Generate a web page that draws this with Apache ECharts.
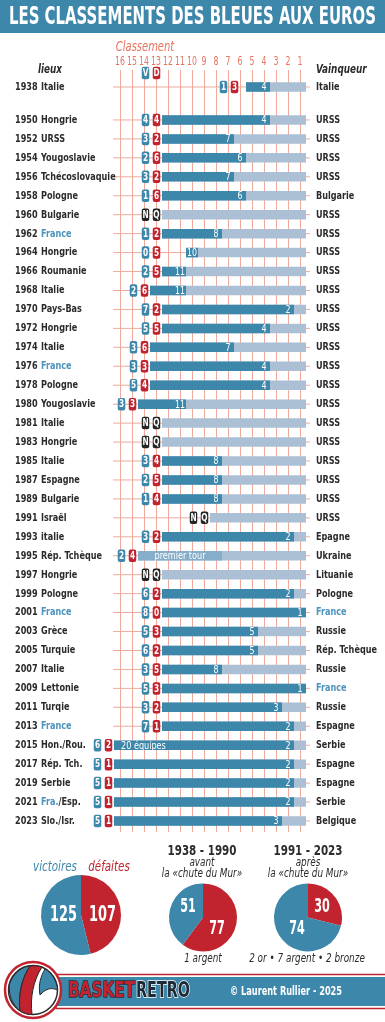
<!DOCTYPE html>
<html><head><meta charset="utf-8">
<script src="https://cdn.jsdelivr.net/npm/echarts@6/dist/echarts.min.js"></script>
<style>html,body{margin:0;padding:0;background:#fff}#c{width:385px;height:1022px}</style>
</head><body><div id="c"></div>
<script>
// ---------- DATA ----------
const years = ['1938','1950','1952','1954','1956','1958','1960','1962','1964','1966','1968','1970','1972','1974','1976','1978','1980','1981','1983','1985','1987','1989','1991','1993','1995','1997','1999','2001','2003','2005','2007','2009','2011','2013','2015','2017','2019','2021','2023'];
const hosts = ['Italie','Hongrie','URSS','Yougoslavie','Tchécoslovaquie','Pologne','Bulgarie','France','Hongrie','Roumanie','Italie','Pays-Bas','Hongrie','Italie','France','Pologne','Yougoslavie','Italie','Hongrie','Italie','Espagne','Bulgarie','Israël','italie','Rép. Tchèque','Hongrie','Pologne','France','Grèce','Turquie','Italie','Lettonie','Turqie','France','Hon./Rou.','Rép. Tch.','Serbie','Fra./Esp.','Slo./Isr.'];
const winners = ['Italie','URSS','URSS','URSS','URSS','Bulgarie','URSS','URSS','URSS','URSS','URSS','URSS','URSS','URSS','URSS','URSS','URSS','URSS','URSS','URSS','URSS','URSS','URSS','Epagne','Ukraine','Lituanie','Pologne','France','Russie','Rép. Tchèque','Russie','France','Russie','Espagne','Serbie','Espagne','Espagne','Serbie','Belgique'];
const wins   = [1,4,3,2,3,1,null,1,0,2,2,7,5,3,3,5,3,null,null,3,2,1,null,3,2,null,6,8,5,6,3,5,3,7,6,5,5,5,5];
const losses = [3,4,2,6,2,6,null,2,5,5,6,2,5,6,3,4,3,null,null,4,5,4,null,2,4,null,2,0,3,2,5,3,2,1,2,1,1,1,1];
const ranks  = [4,4,7,6,7,6,null,8,10,11,11,2,4,7,4,4,11,null,null,8,8,8,null,2,null,null,2,1,5,5,8,1,3,2,2,2,2,2,3];
const teams  = [5,12,12,12,12,12,12,12,10,12,13,12,12,13,13,13,14,12,12,12,12,12,8,12,14,12,12,12,12,12,12,12,12,12,20,20,20,20,20];
const barNotes = {'1995': {text:'premier tour', reach:8}, '2015': {text:'20 équipes'}};
const rankTicks = [16,15,14,13,12,11,10,9,8,7,6,5,4,3,2,1];
const pieAll    = {victoires:125, defaites:107};
const pieBefore = {victoires:51, defaites:77};
const pieAfter  = {victoires:74, defaites:30};

// ---------- STYLE ----------
const FONT = "'Liberation Sans Narrow','DejaVu Sans Condensed',sans-serif";
const BLUE='#3d87ab', RED='#c1232f', LIGHT='#abc0d4', MID='#86adc9', DARK='#2b2b2b', SALMON='#e5735f', GRID='#eeaa9c', NQC='#262626', FRBLUE='#4d93bd';
const COND = 0.82;

const ctx = document.createElement('canvas').getContext('2d');
function fitScale(text, font, w){ ctx.font = font; return w / ctx.measureText(text).width; }

const rowPos = years.map((y,i)=> i===0 ? -1.74 : i-1);
const badgeAnchor = {'1938': 6, '1964': 12.5};

function T(x,y,text,o,sx){
  const st = Object.assign({fill:DARK, fontFamily:FONT, fontSize:11, fontWeight:'bold', align:'left', verticalAlign:'middle'}, o||{});
  if (text != null) st.text = text;
  return {type:'text', x:x, y:y, scaleX:(sx==null?COND:sx), style:st};
}
function badge(cx, cy, txt, color){
  return [
    {type:'rect', shape:{x:cx-3.75, y:cy-6.25, width:7.5, height:12.5, r:2}, style:{fill:color}},
    T(cx, cy+0.5, String(txt), {fill:'#fff', fontSize:10.5, align:'center'}, 0.78)
  ];
}
function placeRich(name){
  if (name === 'France') return {text:name, fill:FRBLUE};
  if (name.indexOf('Fra.') === 0) return {text:'{b|Fra.}' + name.slice(4), rich:{b:{fill:FRBLUE, fontFamily:FONT, fontSize:11, fontWeight:'bold'}}};
  return {text:name};
}

function renderItem(params, api){
  const i = params.dataIndex;
  const p = rowPos[i];
  const X = r => api.coord([r, p])[0];
  const y = api.coord([1, p])[1];
  const ch = [];
  ch.push({type:'line', shape:{x1:X(16.58), y1:y, x2:X(0.17), y2:y}, style:{stroke:GRID, lineWidth:1}});
  const n = Math.min(teams[i], 16);
  const x0 = X(n + 0.5), xE = X(0.5);
  ch.push({type:'rect', shape:{x:x0, y:y-4.75, width:xE-x0, height:9.5}, style:{fill:LIGHT}});
  const note = barNotes[years[i]];
  if (ranks[i] != null){
    const x1 = X(ranks[i] - 0.5);
    ch.push({type:'rect', shape:{x:x0, y:y-4.75, width:x1-x0, height:9.5}, style:{fill:BLUE}});
    ch.push(T(X(ranks[i]), y+0.5, String(ranks[i]), {fill:'#fff', fontSize:11, fontWeight:'normal', align:'center'}, 0.8));
  }
  if (note && note.reach){
    const x1 = X(note.reach - 0.5);
    ch.push({type:'rect', shape:{x:x0, y:y-4.75, width:x1-x0, height:9.5}, style:{fill:MID}});
    ch.push(T((x0+x1)/2, y+0.5, note.text, {fill:'#fff', fontSize:11, fontWeight:'normal', align:'center'}, 0.82));
  } else if (note){
    ch.push(T(x0+7, y+0.5, note.text, {fill:'#fff', fontSize:11, fontWeight:'normal'}, 0.82));
  }
  const ax = X(badgeAnchor[years[i]] != null ? badgeAnchor[years[i]] : n + 0.5);
  if (wins[i] == null){
    ch.push(...badge(ax-16.5, y, 'N', NQC), ...badge(ax-5.5, y, 'Q', NQC));
  } else {
    ch.push(...badge(ax-16.5, y, wins[i], BLUE), ...badge(ax-5.5, y, losses[i], RED));
  }
  ch.push(T(15, y, years[i]));
  ch.push(T(41, y, null, placeRich(hosts[i])));
  ch.push(T(316, y, null, placeRich(winners[i])));
  return {type:'group', children:ch};
}

function renderTicks(params, api){
  const r = rankTicks[params.dataIndex];
  const pt = api.coord([r, -2.637]);
  return T(pt[0], pt[1]-8, String(r), {fill:SALMON, fontSize:12, fontWeight:'normal', align:'center'}, 0.72);
}

function renderLogo(params, api){
  const cx = 33, cy = 990;
  const P = (d, fill) => ({type:'path', x:cx, y:cy, shape:{pathData:d}, style:{fill:fill, stroke:'#2a2a2a', lineWidth:1}});
  return {type:'group', children:[
    {type:'circle', shape:{cx:cx, cy:cy, r:28}, style:{fill:'#fff', stroke:RED, lineWidth:2.5}},
    {type:'circle', shape:{cx:cx, cy:cy, r:24.5}, style:{fill:'#fff', stroke:'#2a2a2a', lineWidth:1.5}},
    P('M -23.5 -6 C -19 -18 -10 -23.5 -3 -24 C -11 -12 -15 4 -13 21 C -20 15 -25 5 -23.5 -6 Z', BLUE),
    P('M -3 -24 C 2 -24.5 6 -24 9 -23 C 0 -9 -3 8 -1 24.5 C -5 24.5 -9 23.5 -13 21 C -15 4 -11 -12 -3 -24 Z', RED),
    P('M 12 -21 C 19 -17 24 -9 24.5 0 C 18 -3 12 -1 7 5 C 5 -6 8 -14 12 -21 Z', BLUE)
  ]};
}

const chart = echarts.init(document.getElementById('c'), null, {renderer:'canvas'});

const titleFont = `bold 25px ${FONT}`;
const titleText = 'LES CLASSEMENTS DES BLEUES AUX EUROS';
const sTitle = fitScale(titleText, titleFont, 367);
const bFont = `bold 21px ${FONT}`;
const sB = fitScale('BASKET', bFont, 67), sR = fitScale('RETRO', bFont, 54);
const cFont = `bold 12px ${FONT}`;
const sC = fitScale('© Laurent Rullier - 2025', cFont, 112);
const p1Font = `bold 22px ${FONT}`, p2Font = `bold 19px ${FONT}`;
const sP = fitScale('125', p1Font, 27);

function G(x,y,text,font,fill,align,extra){
  const st = {text:text, font:font, fill:fill, align:align||'center', textAlign:align||'center', verticalAlign:'middle', textVerticalAlign:'middle'};
  const el = {type:'text', x:x, y:y, z:100, silent:true, style:st, scaleX:COND};
  if (extra){ if (extra.style) Object.assign(st, extra.style); if (extra.scaleX) el.scaleX = extra.scaleX; }
  return el;
}
function gBadge(cx, cy, txt, color){
  return [
    {type:'rect', shape:{x:cx-3.75, y:cy-6.25, width:7.5, height:12.5, r:2}, style:{fill:color}, silent:true, z:99},
    G(cx, cy+0.5, txt, `bold 10.5px ${FONT}`, '#fff', 'center', {scaleX:0.78})
  ];
}

function pieSeries(center, r, obj){
  return {
    type:'pie', center:center, radius:r, startAngle:90, clockwise:true, silent:true, animation:false,
    label:{show:false}, labelLine:{show:false},
    data:[{name:'défaites', value:obj.defaites, itemStyle:{color:RED}}, {name:'victoires', value:obj.victoires, itemStyle:{color:BLUE}}]
  };
}
function pieText(center, obj, offs, font){
  return [
    G(center[0]+offs[0][0], center[1]+offs[0][1], String(obj.defaites), font, '#fff', 'center', {scaleX:sP}),
    G(center[0]+offs[1][0], center[1]+offs[1][1], String(obj.victoires), font, '#fff', 'center', {scaleX:sP})
  ];
}
const C1=[81,915], C2=[203,917.5], C3=[308,917.5];

const option = {
  animation:false,
  backgroundColor:'#fff',
  grid:{left:120, width:180, top:70, height:762},
  xAxis:{type:'value', min:1, max:16, interval:1, inverse:true, position:'top',
    axisLine:{show:false}, axisTick:{show:false}, axisLabel:{show:false},
    splitLine:{show:true, lineStyle:{color:GRID, width:1}}},
  yAxis:{type:'value', inverse:true, min:-2.637, max:37.58, show:false, splitLine:{show:false}},
  series:[
    {type:'custom', renderItem:renderItem, silent:true, clip:false, data:rowPos.map(p => [1, p])},
    {type:'custom', renderItem:renderTicks, silent:true, clip:false, data:rankTicks.map(r => [r, -2.637])},
    pieSeries(C1, 40, pieAll),
    pieSeries(C2, 34, pieBefore),
    pieSeries(C3, 34, pieAfter),
    {type:'custom', coordinateSystem:'none', renderItem:renderLogo, silent:true, data:[[0]], z:10}
  ],
  graphic:{elements:[
    {type:'rect', shape:{x:0,y:0,width:385,height:33}, style:{fill:BLUE}, silent:true},
    G(9, 17.5, titleText, titleFont, '#fff', 'left', {scaleX:sTitle}),
    G(145, 47, 'Classement', `italic 13.5px ${FONT}`, SALMON),
    G(50, 70, 'lieux', `italic bold 12px ${FONT}`, DARK),
    G(316, 70, 'Vainqueur', `italic bold 12px ${FONT}`, DARK, 'left'),
    ...gBadge(145.5, 73, 'V', BLUE), ...gBadge(156.5, 73, 'D', RED),
    G(55, 867, 'victoires', `italic 14px ${FONT}`, BLUE),
    G(109, 867, 'défaites', `italic 14px ${FONT}`, RED),
    G(202, 851, '1938 - 1990', `bold 14px ${FONT}`, DARK),
    G(202, 863, 'avant', `italic 12px ${FONT}`, DARK),
    G(202, 874, 'la «chute du Mur»', `italic 12px ${FONT}`, DARK),
    G(308, 851, '1991 - 2023', `bold 14px ${FONT}`, DARK),
    G(308, 863, 'après', `italic 12px ${FONT}`, DARK),
    G(308, 874, 'la «chute du Mur»', `italic 12px ${FONT}`, DARK),
    G(203, 959, '1 argent', `italic 12px ${FONT}`, DARK),
    G(307, 959, '2 or • 7 argent • 2 bronze', `italic 12px ${FONT}`, DARK),
    ...pieText(C1, pieAll, [[21.5,0],[-17.5,0]], p1Font),
    ...pieText(C2, pieBefore, [[14,11.5],[-15,-10.5]], p2Font),
    ...pieText(C3, pieAfter, [[14,-10.5],[-11,11.5]], p2Font),
    {type:'rect', shape:{x:56, y:974.5, width:330, height:34}, style:{fill:'#fff', stroke:RED, lineWidth:1.5}, silent:true},
    {type:'rect', shape:{x:56, y:977, width:330, height:29}, style:{fill:BLUE}, silent:true},
    G(68, 991.5, 'BASKET', bFont, RED, 'left', {scaleX:sB, style:{stroke:'#1d2a38', lineWidth:1.5}}),
    G(136, 991.5, 'RETRO', bFont, '#1d2a38', 'left', {scaleX:sR, style:{stroke:'#fff', lineWidth:1.5}}),
    G(230, 991.5, '© Laurent Rullier - 2025', cFont, '#fff', 'left', {scaleX:sC})
  ]}
};
chart.setOption(option);
</script>
</body></html>
